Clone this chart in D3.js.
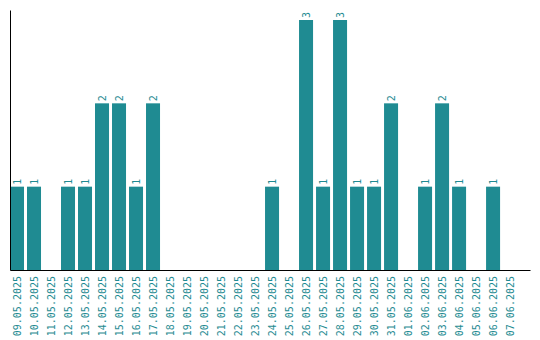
<!DOCTYPE html>
<html>
<head>
<meta charset="utf-8">
<script src="https://cdn.jsdelivr.net/npm/d3@7"></script>
<style>
  body { margin: 0; background: #fff; }
  text { font-family: "DejaVu Sans Mono", monospace; }
</style>
</head>
<body>
<svg id="chart" width="540" height="340"></svg>
<script>
// dates and counts
const days = ["09.05.2025", "10.05.2025", "11.05.2025", "12.05.2025", "13.05.2025",
  "14.05.2025", "15.05.2025", "16.05.2025", "17.05.2025", "18.05.2025",
  "19.05.2025", "20.05.2025", "21.05.2025", "22.05.2025", "23.05.2025",
  "24.05.2025", "25.05.2025", "26.05.2025", "27.05.2025", "28.05.2025",
  "29.05.2025", "30.05.2025", "31.05.2025", "01.06.2025", "02.06.2025",
  "03.06.2025", "04.06.2025", "05.06.2025", "06.06.2025", "07.06.2025"];
const counts = [1, 1, 0, 1, 1, 2, 2, 1, 2, 0,
  0, 0, 0, 0, 0, 1, 0, 3, 1, 3,
  1, 1, 2, 0, 1, 2, 1, 0, 1, 0];

const color = "#1f8b92";
const margin = { top: 10, right: 10, bottom: 70, left: 10 },
  W = 540, H = 340,
  plotBottom = H - margin.bottom;

const svg = d3.select("#chart");

const data = days.map((d, i) => ({ day: d, count: counts[i] }));

// X axis
const x = d3.scaleBand()
  .domain(days)
  .range([margin.left, W - margin.right])
  .paddingInner(0.176)
  .paddingOuter(0.38)
  .align(0);

// Y axis
const y = d3.scaleLinear()
  .domain([0, 3.12])
  .range([plotBottom, margin.top]);

// Bars
svg.selectAll(".bar")
  .data(data.filter(d => d.count > 0))
  .enter()
  .append("rect")
  .attr("class", "bar")
  .attr("x", d => x(d.day))
  .attr("y", d => y(d.count))
  .attr("width", x.bandwidth())
  .attr("height", d => plotBottom - y(d.count))
  .attr("fill", color);

// value labels above bars
svg.selectAll(".val")
  .data(data.filter(d => d.count > 0))
  .enter()
  .append("text")
  .attr("class", "val")
  .attr("transform", d => "translate(" + (x(d.day) + x.bandwidth() / 2) + "," + (y(d.count) - 2) + ")rotate(-90)")
  .attr("dy", "0.35em")
  .attr("text-anchor", "start")
  .style("font-size", "10px")
  .attr("fill", color)
  .text(d => d.count);

const gx = svg.append("g")
  .attr("transform", "translate(0," + plotBottom + ")")
  .call(d3.axisBottom(x).tickSize(0).tickSizeOuter(0));
gx.select(".domain").attr("stroke", "#000");
gx.selectAll("text")
  .attr("transform", "translate(0,6)rotate(-90)")
  .attr("x", 0)
  .attr("y", 0)
  .attr("dy", "0.35em")
  .style("text-anchor", "end")
  .style("font-size", "10px")
  .style("font-family", "DejaVu Sans Mono, monospace")
  .attr("fill", color);

const gy = svg.append("g")
  .attr("transform", "translate(" + margin.left + ",0)")
  .call(d3.axisLeft(y).tickValues([]).tickSizeOuter(0));
gy.select(".domain").attr("stroke", "#000");
</script>
</body>
</html>
